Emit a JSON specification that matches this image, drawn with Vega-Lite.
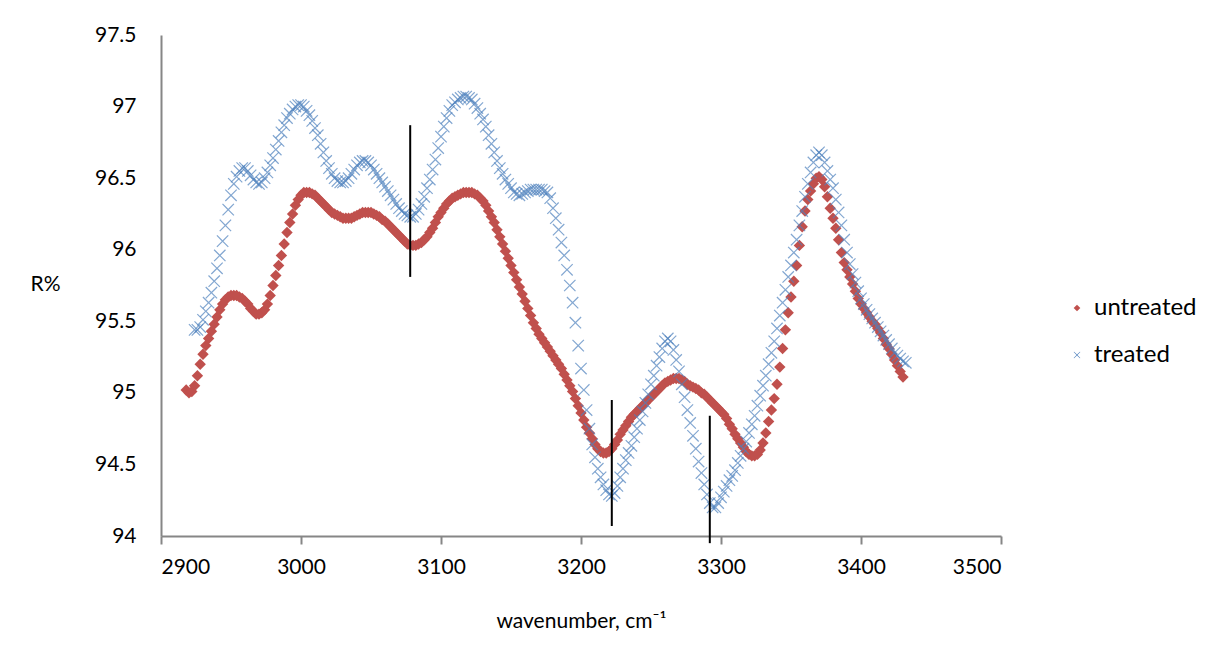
{
  "$schema": "https://vega.github.io/schema/vega-lite/v6.json",
  "width": 840,
  "height": 501,
  "autosize": {"type": "none"},
  "padding": {"left": 161, "top": 35, "right": 218, "bottom": 116},
  "background": "white",
  "config": {
    "view": {"stroke": null},
    "font": "Lato",
    "axis": {"grid": false, "domainColor": "#868686", "domainWidth": 2, "tickColor": "#868686", "tickWidth": 2, "labelColor": "#000000", "titleColor": "#000000", "labelFont": "Lato", "titleFont": "Lato", "labelFontSize": 21, "titleFontSize": 21, "titleFontWeight": "normal"},
    "legend": {"labelFont": "Lato", "labelFontSize": 24, "labelColor": "#000000"}
  },
  "datasets": {
    "untreated": [
      {"w":2918,"r":95.02},{"w":2920,"r":95.00},{"w":2922,"r":95.01},{"w":2924,"r":95.05},{"w":2926,"r":95.12},{"w":2928,"r":95.20},{"w":2930,"r":95.27},{"w":2932,"r":95.33},{"w":2934,"r":95.38},{"w":2936,"r":95.43},{"w":2938,"r":95.48},{"w":2940,"r":95.53},{"w":2942,"r":95.58},{"w":2944,"r":95.62},{"w":2946,"r":95.65},{"w":2948,"r":95.67},{"w":2950,"r":95.68},{"w":2952,"r":95.68},{"w":2954,"r":95.68},{"w":2956,"r":95.67},{"w":2958,"r":95.66},{"w":2960,"r":95.64},{"w":2962,"r":95.62},{"w":2964,"r":95.59},{"w":2966,"r":95.57},{"w":2968,"r":95.55},{"w":2970,"r":95.55},{"w":2972,"r":95.56},{"w":2974,"r":95.58},{"w":2976,"r":95.62},{"w":2978,"r":95.68},{"w":2980,"r":95.75},{"w":2982,"r":95.82},{"w":2984,"r":95.89},{"w":2986,"r":95.96},{"w":2988,"r":96.04},{"w":2990,"r":96.12},{"w":2992,"r":96.19},{"w":2994,"r":96.25},{"w":2996,"r":96.31},{"w":2998,"r":96.35},{"w":3000,"r":96.38},{"w":3002,"r":96.40},{"w":3004,"r":96.40},{"w":3006,"r":96.40},{"w":3008,"r":96.39},{"w":3010,"r":96.38},{"w":3012,"r":96.36},{"w":3014,"r":96.34},{"w":3016,"r":96.32},{"w":3018,"r":96.30},{"w":3020,"r":96.28},{"w":3022,"r":96.26},{"w":3024,"r":96.25},{"w":3026,"r":96.24},{"w":3028,"r":96.23},{"w":3030,"r":96.22},{"w":3032,"r":96.22},{"w":3034,"r":96.22},{"w":3036,"r":96.22},{"w":3038,"r":96.23},{"w":3040,"r":96.24},{"w":3042,"r":96.25},{"w":3044,"r":96.26},{"w":3046,"r":96.26},{"w":3048,"r":96.26},{"w":3050,"r":96.26},{"w":3052,"r":96.25},{"w":3054,"r":96.24},{"w":3056,"r":96.23},{"w":3058,"r":96.21},{"w":3060,"r":96.20},{"w":3062,"r":96.18},{"w":3064,"r":96.16},{"w":3066,"r":96.14},{"w":3068,"r":96.12},{"w":3070,"r":96.10},{"w":3072,"r":96.08},{"w":3074,"r":96.06},{"w":3076,"r":96.04},{"w":3078,"r":96.03},{"w":3080,"r":96.03},{"w":3082,"r":96.03},{"w":3084,"r":96.04},{"w":3086,"r":96.05},{"w":3088,"r":96.07},{"w":3090,"r":96.09},{"w":3092,"r":96.12},{"w":3094,"r":96.15},{"w":3096,"r":96.19},{"w":3098,"r":96.23},{"w":3100,"r":96.26},{"w":3102,"r":96.29},{"w":3104,"r":96.32},{"w":3106,"r":96.34},{"w":3108,"r":96.36},{"w":3110,"r":96.37},{"w":3112,"r":96.38},{"w":3114,"r":96.39},{"w":3116,"r":96.40},{"w":3118,"r":96.40},{"w":3120,"r":96.40},{"w":3122,"r":96.40},{"w":3124,"r":96.39},{"w":3126,"r":96.38},{"w":3128,"r":96.36},{"w":3130,"r":96.34},{"w":3132,"r":96.31},{"w":3134,"r":96.27},{"w":3136,"r":96.23},{"w":3138,"r":96.19},{"w":3140,"r":96.14},{"w":3142,"r":96.09},{"w":3144,"r":96.04},{"w":3146,"r":95.99},{"w":3148,"r":95.94},{"w":3150,"r":95.89},{"w":3152,"r":95.84},{"w":3154,"r":95.79},{"w":3156,"r":95.74},{"w":3158,"r":95.69},{"w":3160,"r":95.64},{"w":3162,"r":95.59},{"w":3164,"r":95.54},{"w":3166,"r":95.49},{"w":3168,"r":95.45},{"w":3170,"r":95.41},{"w":3172,"r":95.38},{"w":3174,"r":95.35},{"w":3176,"r":95.32},{"w":3178,"r":95.29},{"w":3180,"r":95.26},{"w":3182,"r":95.23},{"w":3184,"r":95.20},{"w":3186,"r":95.17},{"w":3188,"r":95.13},{"w":3190,"r":95.09},{"w":3192,"r":95.05},{"w":3194,"r":95.01},{"w":3196,"r":94.96},{"w":3198,"r":94.91},{"w":3200,"r":94.86},{"w":3202,"r":94.81},{"w":3204,"r":94.76},{"w":3206,"r":94.72},{"w":3208,"r":94.68},{"w":3210,"r":94.64},{"w":3212,"r":94.61},{"w":3214,"r":94.59},{"w":3216,"r":94.58},{"w":3218,"r":94.58},{"w":3220,"r":94.59},{"w":3222,"r":94.61},{"w":3224,"r":94.64},{"w":3226,"r":94.67},{"w":3228,"r":94.71},{"w":3230,"r":94.74},{"w":3232,"r":94.77},{"w":3234,"r":94.80},{"w":3236,"r":94.83},{"w":3238,"r":94.85},{"w":3240,"r":94.87},{"w":3242,"r":94.89},{"w":3244,"r":94.91},{"w":3246,"r":94.93},{"w":3248,"r":94.95},{"w":3250,"r":94.97},{"w":3252,"r":94.99},{"w":3254,"r":95.01},{"w":3256,"r":95.03},{"w":3258,"r":95.05},{"w":3260,"r":95.07},{"w":3262,"r":95.08},{"w":3264,"r":95.09},{"w":3266,"r":95.10},{"w":3268,"r":95.10},{"w":3270,"r":95.10},{"w":3272,"r":95.09},{"w":3274,"r":95.08},{"w":3276,"r":95.06},{"w":3278,"r":95.05},{"w":3280,"r":95.04},{"w":3282,"r":95.03},{"w":3284,"r":95.02},{"w":3286,"r":95.00},{"w":3288,"r":94.99},{"w":3290,"r":94.97},{"w":3292,"r":94.95},{"w":3294,"r":94.93},{"w":3296,"r":94.91},{"w":3298,"r":94.89},{"w":3300,"r":94.87},{"w":3302,"r":94.85},{"w":3304,"r":94.82},{"w":3306,"r":94.78},{"w":3308,"r":94.75},{"w":3310,"r":94.71},{"w":3312,"r":94.68},{"w":3314,"r":94.65},{"w":3316,"r":94.62},{"w":3318,"r":94.59},{"w":3320,"r":94.57},{"w":3322,"r":94.56},{"w":3324,"r":94.56},{"w":3326,"r":94.57},{"w":3328,"r":94.60},{"w":3330,"r":94.65},{"w":3332,"r":94.72},{"w":3334,"r":94.80},{"w":3336,"r":94.88},{"w":3338,"r":94.96},{"w":3340,"r":95.06},{"w":3342,"r":95.18},{"w":3344,"r":95.31},{"w":3346,"r":95.44},{"w":3348,"r":95.56},{"w":3350,"r":95.67},{"w":3352,"r":95.78},{"w":3354,"r":95.89},{"w":3356,"r":96.03},{"w":3358,"r":96.16},{"w":3360,"r":96.27},{"w":3362,"r":96.35},{"w":3364,"r":96.41},{"w":3366,"r":96.46},{"w":3368,"r":96.50},{"w":3370,"r":96.51},{"w":3372,"r":96.49},{"w":3374,"r":96.44},{"w":3376,"r":96.37},{"w":3378,"r":96.29},{"w":3380,"r":96.22},{"w":3382,"r":96.15},{"w":3384,"r":96.07},{"w":3386,"r":95.98},{"w":3388,"r":95.91},{"w":3390,"r":95.86},{"w":3392,"r":95.81},{"w":3394,"r":95.76},{"w":3396,"r":95.71},{"w":3398,"r":95.66},{"w":3400,"r":95.62},{"w":3402,"r":95.59},{"w":3404,"r":95.56},{"w":3406,"r":95.53},{"w":3408,"r":95.50},{"w":3410,"r":95.48},{"w":3412,"r":95.45},{"w":3414,"r":95.42},{"w":3416,"r":95.38},{"w":3418,"r":95.34},{"w":3420,"r":95.31},{"w":3422,"r":95.27},{"w":3424,"r":95.23},{"w":3426,"r":95.19},{"w":3428,"r":95.15},{"w":3430,"r":95.11}
    ],
    "treated": [
      {"w":2924,"r":95.44},{"w":2926,"r":95.44},{"w":2928,"r":95.46},{"w":2930,"r":95.51},{"w":2932,"r":95.57},{"w":2934,"r":95.63},{"w":2936,"r":95.70},{"w":2938,"r":95.78},{"w":2940,"r":95.87},{"w":2942,"r":95.96},{"w":2944,"r":96.06},{"w":2946,"r":96.17},{"w":2948,"r":96.28},{"w":2950,"r":96.38},{"w":2952,"r":96.46},{"w":2954,"r":96.51},{"w":2956,"r":96.55},{"w":2958,"r":96.57},{"w":2960,"r":96.57},{"w":2962,"r":96.55},{"w":2964,"r":96.52},{"w":2966,"r":96.49},{"w":2968,"r":96.47},{"w":2970,"r":96.46},{"w":2972,"r":96.47},{"w":2974,"r":96.50},{"w":2976,"r":96.54},{"w":2978,"r":96.59},{"w":2980,"r":96.64},{"w":2982,"r":96.70},{"w":2984,"r":96.76},{"w":2986,"r":96.82},{"w":2988,"r":96.87},{"w":2990,"r":96.92},{"w":2992,"r":96.95},{"w":2994,"r":96.98},{"w":2996,"r":97.00},{"w":2998,"r":97.01},{"w":3000,"r":97.01},{"w":3002,"r":97.00},{"w":3004,"r":96.97},{"w":3006,"r":96.94},{"w":3008,"r":96.90},{"w":3010,"r":96.85},{"w":3012,"r":96.80},{"w":3014,"r":96.74},{"w":3016,"r":96.68},{"w":3018,"r":96.62},{"w":3020,"r":96.57},{"w":3022,"r":96.53},{"w":3024,"r":96.50},{"w":3026,"r":96.48},{"w":3028,"r":96.47},{"w":3030,"r":96.47},{"w":3032,"r":96.48},{"w":3034,"r":96.50},{"w":3036,"r":96.53},{"w":3038,"r":96.56},{"w":3040,"r":96.59},{"w":3042,"r":96.61},{"w":3044,"r":96.62},{"w":3046,"r":96.62},{"w":3048,"r":96.61},{"w":3050,"r":96.59},{"w":3052,"r":96.56},{"w":3054,"r":96.53},{"w":3056,"r":96.50},{"w":3058,"r":96.47},{"w":3060,"r":96.44},{"w":3062,"r":96.41},{"w":3064,"r":96.38},{"w":3066,"r":96.35},{"w":3068,"r":96.32},{"w":3070,"r":96.29},{"w":3072,"r":96.27},{"w":3074,"r":96.25},{"w":3076,"r":96.24},{"w":3078,"r":96.23},{"w":3080,"r":96.23},{"w":3082,"r":96.25},{"w":3084,"r":96.28},{"w":3086,"r":96.32},{"w":3088,"r":96.37},{"w":3090,"r":96.43},{"w":3092,"r":96.49},{"w":3094,"r":96.56},{"w":3096,"r":96.63},{"w":3098,"r":96.71},{"w":3100,"r":96.79},{"w":3102,"r":96.86},{"w":3104,"r":96.92},{"w":3106,"r":96.97},{"w":3108,"r":97.01},{"w":3110,"r":97.03},{"w":3112,"r":97.05},{"w":3114,"r":97.06},{"w":3116,"r":97.07},{"w":3118,"r":97.07},{"w":3120,"r":97.06},{"w":3122,"r":97.05},{"w":3124,"r":97.02},{"w":3126,"r":96.99},{"w":3128,"r":96.95},{"w":3130,"r":96.91},{"w":3132,"r":96.86},{"w":3134,"r":96.80},{"w":3136,"r":96.74},{"w":3138,"r":96.68},{"w":3140,"r":96.62},{"w":3142,"r":96.57},{"w":3144,"r":96.53},{"w":3146,"r":96.49},{"w":3148,"r":96.46},{"w":3150,"r":96.43},{"w":3152,"r":96.40},{"w":3154,"r":96.39},{"w":3156,"r":96.38},{"w":3158,"r":96.39},{"w":3160,"r":96.40},{"w":3162,"r":96.41},{"w":3164,"r":96.42},{"w":3166,"r":96.42},{"w":3168,"r":96.42},{"w":3170,"r":96.42},{"w":3172,"r":96.42},{"w":3174,"r":96.41},{"w":3176,"r":96.40},{"w":3178,"r":96.36},{"w":3180,"r":96.29},{"w":3182,"r":96.22},{"w":3184,"r":96.14},{"w":3186,"r":96.05},{"w":3188,"r":95.96},{"w":3190,"r":95.86},{"w":3192,"r":95.75},{"w":3194,"r":95.63},{"w":3196,"r":95.49},{"w":3198,"r":95.33},{"w":3200,"r":95.17},{"w":3202,"r":95.02},{"w":3204,"r":94.88},{"w":3206,"r":94.75},{"w":3208,"r":94.64},{"w":3210,"r":94.55},{"w":3212,"r":94.47},{"w":3214,"r":94.41},{"w":3216,"r":94.36},{"w":3218,"r":94.32},{"w":3220,"r":94.29},{"w":3222,"r":94.28},{"w":3224,"r":94.30},{"w":3226,"r":94.35},{"w":3228,"r":94.41},{"w":3230,"r":94.47},{"w":3232,"r":94.53},{"w":3234,"r":94.58},{"w":3236,"r":94.63},{"w":3238,"r":94.69},{"w":3240,"r":94.75},{"w":3242,"r":94.81},{"w":3244,"r":94.87},{"w":3246,"r":94.93},{"w":3248,"r":94.99},{"w":3250,"r":95.06},{"w":3252,"r":95.12},{"w":3254,"r":95.19},{"w":3256,"r":95.25},{"w":3258,"r":95.31},{"w":3260,"r":95.36},{"w":3262,"r":95.38},{"w":3264,"r":95.36},{"w":3266,"r":95.30},{"w":3268,"r":95.23},{"w":3270,"r":95.15},{"w":3272,"r":95.06},{"w":3274,"r":94.97},{"w":3276,"r":94.88},{"w":3278,"r":94.79},{"w":3280,"r":94.70},{"w":3282,"r":94.61},{"w":3284,"r":94.52},{"w":3286,"r":94.44},{"w":3288,"r":94.36},{"w":3290,"r":94.29},{"w":3292,"r":94.23},{"w":3294,"r":94.20},{"w":3296,"r":94.20},{"w":3298,"r":94.23},{"w":3300,"r":94.27},{"w":3302,"r":94.31},{"w":3304,"r":94.35},{"w":3306,"r":94.39},{"w":3308,"r":94.42},{"w":3310,"r":94.46},{"w":3312,"r":94.51},{"w":3314,"r":94.56},{"w":3316,"r":94.61},{"w":3318,"r":94.66},{"w":3320,"r":94.72},{"w":3322,"r":94.78},{"w":3324,"r":94.84},{"w":3326,"r":94.91},{"w":3328,"r":94.98},{"w":3330,"r":95.05},{"w":3332,"r":95.12},{"w":3334,"r":95.20},{"w":3336,"r":95.28},{"w":3338,"r":95.36},{"w":3340,"r":95.45},{"w":3342,"r":95.54},{"w":3344,"r":95.63},{"w":3346,"r":95.72},{"w":3348,"r":95.81},{"w":3350,"r":95.89},{"w":3352,"r":95.98},{"w":3354,"r":96.07},{"w":3356,"r":96.17},{"w":3358,"r":96.27},{"w":3360,"r":96.37},{"w":3362,"r":96.46},{"w":3364,"r":96.54},{"w":3366,"r":96.61},{"w":3368,"r":96.66},{"w":3370,"r":96.68},{"w":3372,"r":96.66},{"w":3374,"r":96.61},{"w":3376,"r":96.55},{"w":3378,"r":96.49},{"w":3380,"r":96.43},{"w":3382,"r":96.35},{"w":3384,"r":96.26},{"w":3386,"r":96.17},{"w":3388,"r":96.07},{"w":3390,"r":95.98},{"w":3392,"r":95.90},{"w":3394,"r":95.83},{"w":3396,"r":95.77},{"w":3398,"r":95.71},{"w":3400,"r":95.66},{"w":3402,"r":95.62},{"w":3404,"r":95.58},{"w":3406,"r":95.55},{"w":3408,"r":95.52},{"w":3410,"r":95.49},{"w":3412,"r":95.46},{"w":3414,"r":95.43},{"w":3416,"r":95.40},{"w":3418,"r":95.37},{"w":3420,"r":95.34},{"w":3422,"r":95.31},{"w":3424,"r":95.28},{"w":3426,"r":95.26},{"w":3428,"r":95.24},{"w":3430,"r":95.22},{"w":3432,"r":95.21}
    ],
    "marks": [
      {"w":3078,"a":95.81,"b":96.87},
      {"w":3222,"a":94.07,"b":94.95},
      {"w":3292,"a":93.95,"b":94.84}
    ]
  },
  "encoding": {
    "x": {"field": "w", "type": "quantitative", "scale": {"domain": [2900, 3500], "nice": false, "zero": false},
      "axis": {"values": [2900,3000,3100,3200,3300,3400,3500], "format": "d", "tickSize": 8, "labelPadding": 12, "title": "wavenumber, cm⁻¹", "titleY": 85, "titleBaseline": "middle"}},
    "y": {"type": "quantitative", "scale": {"domain": [94, 97.5], "nice": false, "zero": false},
      "axis": {"values": [94,94.5,95,95.5,96,96.5,97,97.5], "format": "~g", "ticks": false, "tickSize": 0, "labelPadding": 25, "title": "R%", "titleAngle": 0, "titleAlign": "left", "titleBaseline": "middle", "titleX": -131, "titleY": 249}}
  },
  "layer": [
    {
      "data": {"name": "untreated"},
      "mark": {"type": "point", "filled": true, "opacity": 1, "size": 130},
      "encoding": {
        "y": {"field": "r", "type": "quantitative"},
        "color": {"datum": "untreated", "type": "nominal", "scale": {"domain": ["untreated", "treated"], "range": ["#C0504D", "#4F81BD"]},
          "legend": {"title": null, "orient": "none", "legendX": 904, "legendY": 261, "symbolSize": 45, "rowPadding": 23, "labelOffset": 5}},
        "shape": {"datum": "untreated", "type": "nominal", "scale": {"domain": ["untreated", "treated"], "range": ["diamond", "M-1,-0.86L-0.86,-1L0,-0.14L0.86,-1L1,-0.86L0.14,0L1,0.86L0.86,1L0,0.14L-0.86,1L-1,0.86L-0.14,0Z"]}}
      }
    },
    {
      "data": {"name": "treated"},
      "mark": {"type": "point", "filled": true, "opacity": 0.7, "size": 150},
      "encoding": {
        "y": {"field": "r", "type": "quantitative"},
        "color": {"datum": "treated", "type": "nominal"},
        "shape": {"datum": "treated", "type": "nominal"}
      }
    },
    {
      "data": {"name": "marks"},
      "mark": {"type": "rule", "color": "#000000", "strokeWidth": 2},
      "encoding": {
        "y": {"field": "a", "type": "quantitative"},
        "y2": {"field": "b"}
      }
    }
  ]
}
